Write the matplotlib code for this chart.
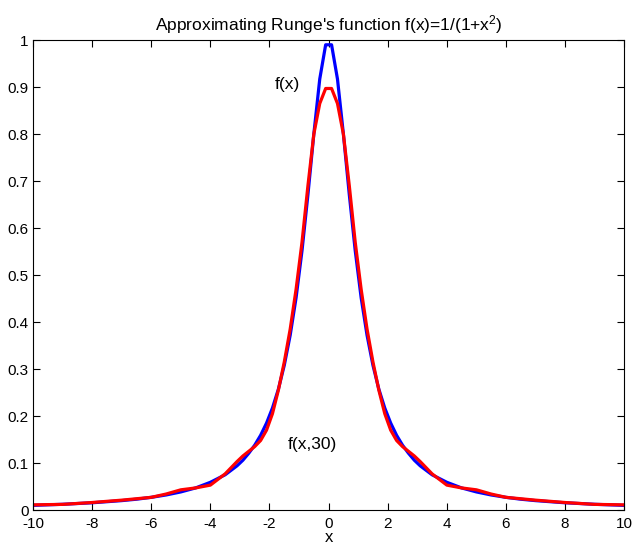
# runge_plot.py
# blue: f(x)=1/(1+x^2), red: approximation f(x,30)
import numpy as np
import matplotlib
matplotlib.use('Agg')
import matplotlib.pyplot as plt

plt.rcParams['font.family'] = ['Liberation Sans', 'DejaVu Sans']
plt.rcParams['mathtext.fontset'] = 'custom'
plt.rcParams['mathtext.rm'] = 'Liberation Sans'
plt.rcParams['mathtext.it'] = 'Liberation Sans'
plt.rcParams['axes.unicode_minus'] = False

# ==== data ====
# right half, x >= 0; the curves are mirrored to x < 0
x_half = [0.1, 0.3, 0.5, 0.7, 0.9, 1.1, 1.3, 1.5, 1.7, 1.9, 2.1, 2.3,
          2.5, 2.7, 2.9, 3.1, 3.5, 4.0, 4.5, 5.0, 5.5, 6.0, 6.5, 7.0,
          8.0, 9.0, 10.0]
f_half = [0.990, 0.917, 0.800, 0.671, 0.552, 0.452, 0.372, 0.308, 0.257,
          0.217, 0.185, 0.159, 0.138, 0.121, 0.106, 0.094, 0.075, 0.059,
          0.047, 0.0385, 0.032, 0.027, 0.023, 0.020, 0.0154, 0.0122, 0.0099]
f30_half = [0.897, 0.865, 0.800, 0.690, 0.570, 0.470, 0.385, 0.315, 0.255,
            0.205, 0.170, 0.148, 0.135, 0.125, 0.115, 0.103, 0.077, 0.053,
            0.047, 0.043, 0.034, 0.027, 0.024, 0.021, 0.016, 0.012, 0.011]

x = np.concatenate([-np.array(x_half[::-1]), np.array(x_half)])
f = np.concatenate([f_half[::-1], f_half])
f30 = np.concatenate([f30_half[::-1], f30_half])

# ==== plotting ====
fig = plt.figure(figsize=(6.35, 5.49), dpi=100)
ax = fig.add_axes([0.052, 0.071, 0.931, 0.856])

ax.plot(x, f, color='#0000ff', lw=2.3)
ax.plot(x, f30, color='#ff0000', lw=2.3)

ax.text(-1.4, 0.906, 'f(x)', fontsize=12.5, ha='center', va='center')
ax.text(-0.55, 0.14, 'f(x,30)', fontsize=12.5, ha='center', va='center')

ax.set_xlim(-10, 10)
ax.set_ylim(0, 1)
ax.set_xticks(np.arange(-10, 11, 2))
ax.set_yticks(np.arange(0, 1.01, 0.1))
ax.set_yticklabels(['0', '0.1', '0.2', '0.3', '0.4', '0.5', '0.6', '0.7',
                    '0.8', '0.9', '1'])
ax.tick_params(direction='in', length=5, width=0.8, labelsize=11,
               top=True, right=True)
ax.tick_params(axis='x', pad=5)
ax.tick_params(axis='y', pad=3)
ax.set_xlabel('x', fontsize=12, labelpad=-1)
ax.set_title("Approximating Runge's function f(x)=1/(1+x$^2$)",
             fontsize=12.5, pad=7)

fig.savefig('out.png', dpi=100)
